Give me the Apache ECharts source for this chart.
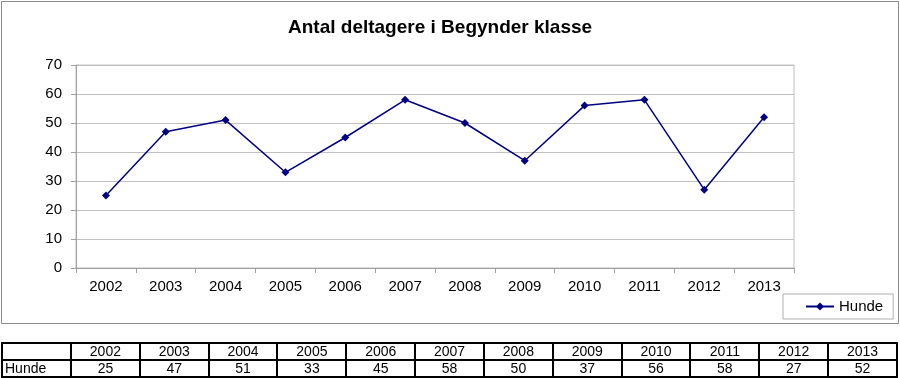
<!DOCTYPE html>
<html>
<head>
<meta charset="utf-8">
<script src="https://cdn.jsdelivr.net/npm/echarts@6/dist/echarts.min.js"></script>
<style>
  body { margin: 0; background: #fff; }
  #wrap { position: relative; width: 900px; height: 378px; }
  #chart { position: absolute; left: 0; top: 0; width: 900px; height: 378px; }
  #tbl {
    position: absolute; left: 1px; top: 342px; width: 897px;
    border-collapse: collapse; table-layout: fixed;
    font-family: "Liberation Sans", Arial, sans-serif; font-size: 14px;
  }
  #tbl td { border: 2px solid #000; height: 15px; padding: 0; line-height: 15px; text-align: center; }
  #tbl td.name { text-align: left; padding-left: 2px; }
</style>
</head>
<body>
<div id="wrap">
  <div id="chart"></div>
  <table id="tbl"></table>
</div>
<script>
// data
const years = ['2002', '2003', '2004', '2005', '2006', '2007', '2008', '2009', '2010', '2011', '2012', '2013'];
const hunde = [25, 47, 51, 33, 45, 58, 50, 37, 56, 58, 27, 52];
const seriesName = 'Hunde';
const chartTitle = 'Antal deltagere i Begynder klasse';

const font = '"Liberation Sans", Arial, sans-serif';
const myChart = echarts.init(document.getElementById('chart'));

const option = {
  animation: false,
  title: {
    text: chartTitle,
    left: 283,
    top: 13,
    textStyle: { fontFamily: font, fontSize: 19, fontWeight: 'bold', color: '#000' }
  },
  graphic: [{
    type: 'rect',
    shape: { x: 1.5, y: 1.5, width: 897, height: 322 },
    style: { fill: 'none', stroke: '#8c8c8c', lineWidth: 1 },
    z: -1
  }],
  grid: {
    left: 76, top: 65, width: 718, height: 203,
    show: true, borderColor: '#c0c0c0', borderWidth: 1
  },
  legend: {
    data: [seriesName],
    left: 783, top: 294,
    borderColor: '#b0b0b0', borderWidth: 1,
    padding: [5, 10, 5, 22],
    itemWidth: 28, itemHeight: 10,
    itemGap: 0,
    textStyle: { fontFamily: font, fontSize: 15, color: '#000' }
  },
  xAxis: {
    type: 'category',
    data: years,
    boundaryGap: true,
    axisLine: { lineStyle: { color: '#a0a0a0' } },
    axisTick: { show: true, alignWithLabel: false, length: 5, lineStyle: { color: '#a0a0a0' } },
    axisLabel: { fontFamily: font, fontSize: 15, color: '#000', margin: 11 }
  },
  yAxis: {
    type: 'value',
    min: 0, max: 70, interval: 10,
    axisLine: { show: true, lineStyle: { color: '#a0a0a0' } },
    axisTick: { show: true, length: 5, lineStyle: { color: '#a0a0a0' } },
    axisLabel: { fontFamily: font, fontSize: 15, color: '#000', margin: 14 },
    splitLine: { lineStyle: { color: '#c0c0c0' } }
  },
  series: [{
    name: seriesName,
    type: 'line',
    data: hunde,
    symbol: 'diamond',
    symbolSize: 8,
    lineStyle: { color: '#000080', width: 1.5 },
    itemStyle: { color: '#000080' }
  }]
};
myChart.setOption(option);

// data table under the chart
const tbl = document.getElementById('tbl');
let html = '<colgroup><col style="width:69px">' + years.map(() => '<col>').join('') + '</colgroup>';
html += '<tr><td></td>' + years.map((y) => `<td>${y}</td>`).join('') + '</tr>';
html += `<tr><td class="name">${seriesName}</td>` + hunde.map((v) => `<td>${v}</td>`).join('') + '</tr>';
tbl.innerHTML = html;
</script>
</body>
</html>
